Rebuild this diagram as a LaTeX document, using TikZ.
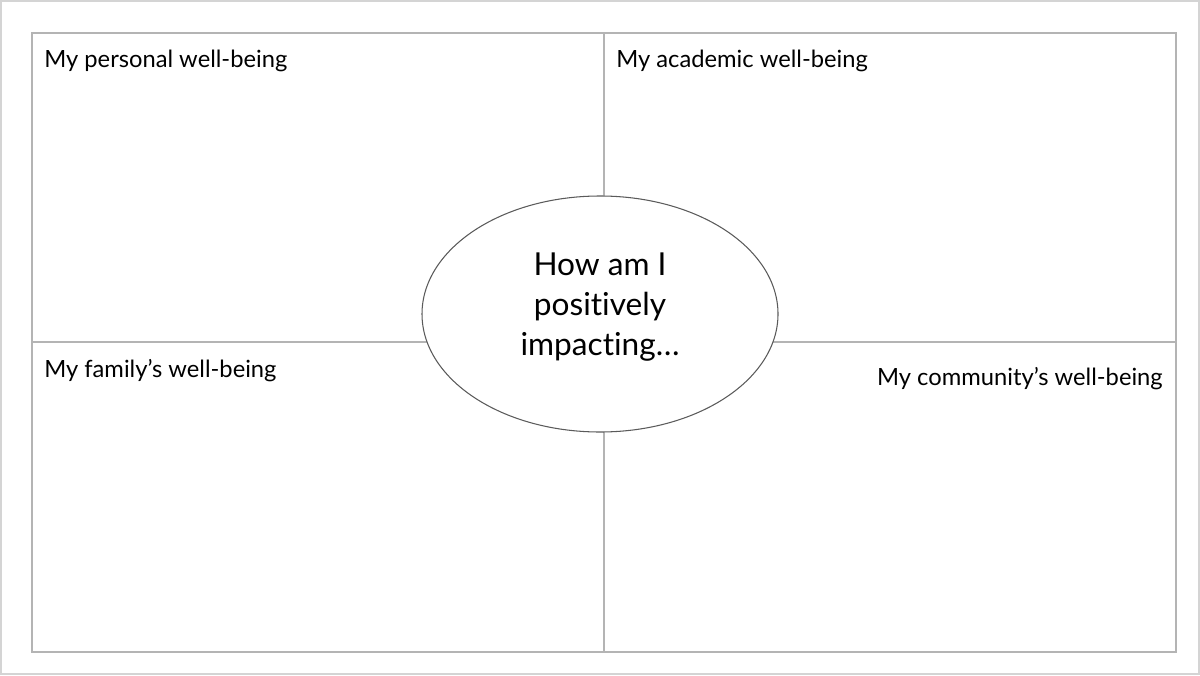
\documentclass[tikz,border=0pt]{standalone}
\usepackage{fontspec}
\setmainfont{Lato}[Ligatures=NoCommon]
\usepackage{xcolor}
\usetikzlibrary{shapes.geometric}
\definecolor{framegray}{HTML}{B4B4B4}
\definecolor{edgegray}{HTML}{D4D4D4}
\definecolor{rimgray}{HTML}{5A5A5A}

\begin{document}
\begin{tikzpicture}[quadline/.style={draw=framegray, line width=1.1pt},
  corner/.style={font=\fontsize{13.5}{16}\selectfont, inner sep=0pt}]
\useasboundingbox (0,0) rectangle (24,13.5);
\draw[edgegray, line width=1pt] (0.02,0.02) rectangle (23.98,13.48);

\coordinate (NW) at (0.64,12.84);
\coordinate (SE) at (23.52,0.46);
\coordinate (top) at (12.08,12.84);
\coordinate (bottom) at (12.08,0.46);
\coordinate (left) at (0.64,6.66);
\coordinate (right) at (23.52,6.66);

\draw[quadline] (NW) rectangle (SE);
\draw[quadline] (top) -- (bottom);
\draw[quadline] (left) -- (right);

\node (hub) [ellipse, draw=rimgray, fill=white, line width=0.6pt,
  minimum width=7.12cm, minimum height=4.72cm, inner sep=0pt] at (12.0,7.22) {};
\node (question) [align=center, font=\fontsize{18}{23}\selectfont] at (12.0,7.36)
  {How am I\\ positively\\ impacting\ldots};

\node (personal) [corner, anchor=base west] at (0.88,12.14) {My personal well-being};
\node (academic) [corner, anchor=base west] at (12.32,12.14) {My academic well-being};
\node (family) [corner, anchor=base west] at (0.88,5.96) {My family’s well-being};
\node (community) [corner, anchor=base east] at (23.26,5.8) {My community’s well-being};
\end{tikzpicture}
\end{document}
